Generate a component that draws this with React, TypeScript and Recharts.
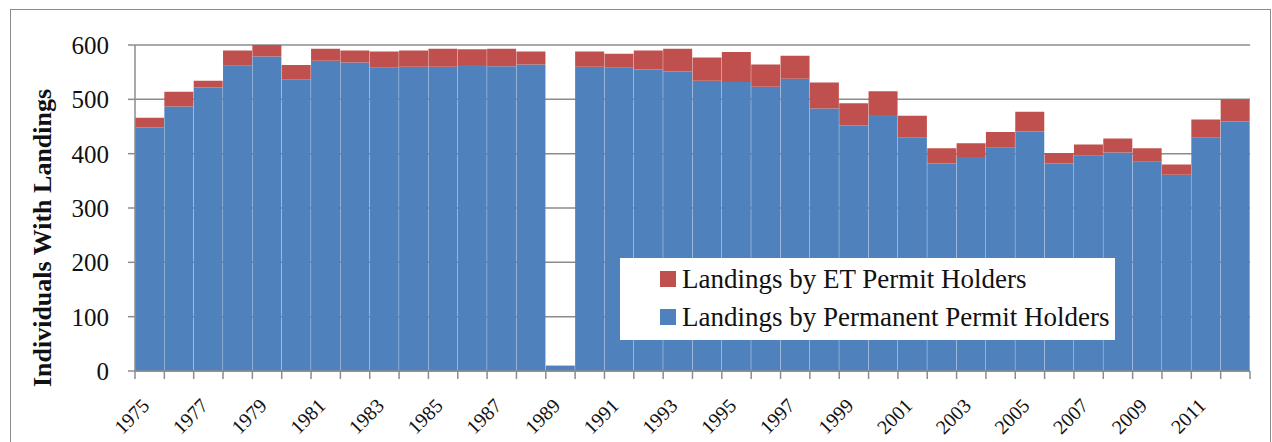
import { BarChart, Bar, XAxis, YAxis, CartesianGrid, Legend } from 'recharts'

const YEARS = [
  1975, 1976, 1977, 1978, 1979, 1980, 1981, 1982, 1983, 1984,
  1985, 1986, 1987, 1988, 1989, 1990, 1991, 1992, 1993, 1994,
  1995, 1996, 1997, 1998, 1999, 2000, 2001, 2002, 2003, 2004,
  2005, 2006, 2007, 2008, 2009, 2010, 2011, 2012,
]

// individuals with landings, permanent permit holders (bottom of stack)
const PERMANENT = [
  448, 487, 522, 562, 579, 537, 571, 568, 558, 560,
  560, 563, 561, 564, 10, 560, 558, 555, 551, 534,
  532, 523, 538, 483, 452, 471, 430, 382, 394, 411,
  441, 382, 396, 402, 385, 361, 430, 459,
]

// ET permit holders (top of stack)
const ET = [
  18, 27, 12, 28, 24, 26, 22, 22, 30, 30,
  33, 29, 32, 24, 0, 28, 26, 35, 42, 43,
  55, 41, 42, 48, 41, 44, 40, 28, 25, 29,
  36, 19, 21, 26, 25, 19, 33, 41,
]

const Y_TICKS = [0, 100, 200, 300, 400, 500, 600]

const PERM_NAME = 'Landings by Permanent Permit Holders'
const ET_NAME = 'Landings by ET Permit Holders'

const PERM_COLOR = '#4f81bd'
const ET_COLOR = '#c0504d'
const GRID = '#8c8c8c'
const TEXT = '#111'
const FONT = '"Liberation Serif", "Times New Roman", serif'

const W = 1272
const H = 442
const MARGIN = { top: 45, right: 22, left: 0, bottom: 0 }
const Y_AXIS_W = 135
const X_AXIS_H = 71
const BAND = (W - MARGIN.left - MARGIN.right - Y_AXIS_W) / YEARS.length

const LEGEND_ITEMS = [
  { name: ET_NAME, color: ET_COLOR },
  { name: PERM_NAME, color: PERM_COLOR },
]

const data = YEARS.map((year, i) => ({
  year: String(year),
  permanent: PERMANENT[i],
  et: ET[i],
}))

// category ticks sit on the band edges, labels on every other year
function YearTick({ x, y, index, payload }: any) {
  const left = x - BAND / 2
  const last = index === YEARS.length - 1
  const ax = x + 1
  const ay = y + 28
  return (
    <g>
      <line x1={left} x2={left} y1={y - 8} y2={y} stroke={GRID} strokeWidth={1.5} />
      {last && <line x1={left + BAND} x2={left + BAND} y1={y - 8} y2={y} stroke={GRID} strokeWidth={1.5} />}
      {index % 2 === 0 && (
        <text
          x={ax}
          y={ay}
          textAnchor="end"
          transform={`rotate(-45, ${ax}, ${ay})`}
          fontSize={20}
          fontFamily={FONT}
          fill={TEXT}
        >
          {payload.value}
        </text>
      )}
    </g>
  )
}

function LegendBox() {
  return (
    <div style={{ fontFamily: FONT, fontSize: 27, color: TEXT, paddingLeft: 40, paddingTop: 2 }}>
      {LEGEND_ITEMS.map(item => (
        <div key={item.name} style={{ display: 'flex', alignItems: 'center', height: 38, whiteSpace: 'nowrap' }}>
          <span style={{ display: 'inline-block', flexShrink: 0, width: 16, height: 16, background: item.color, marginRight: 6 }} />
          {item.name}
        </div>
      ))}
    </div>
  )
}

export default function App() {
  return (
    <div style={{ position: 'absolute', left: 0, top: 0, width: W, height: H, background: '#fff', overflow: 'hidden' }}>
      <div style={{ position: 'absolute', left: 10, top: 9, width: 1261, height: 460, border: `1px solid ${GRID}`, boxSizing: 'border-box' }} />
      <BarChart width={W} height={H} data={data} margin={MARGIN} barCategoryGap={0} barGap={0}>
        <CartesianGrid vertical={false} stroke={GRID} strokeWidth={1.5} />
        <XAxis
          dataKey="year"
          height={X_AXIS_H}
          interval={0}
          tickLine={false}
          tickSize={8}
          tickMargin={0}
          axisLine={{ stroke: GRID, strokeWidth: 1.5 }}
          tick={<YearTick />}
        />
        <YAxis
          width={Y_AXIS_W}
          domain={[0, 600]}
          ticks={Y_TICKS}
          allowDataOverflow
          tickSize={7}
          tickMargin={19}
          axisLine={{ stroke: GRID, strokeWidth: 1.5 }}
          tickLine={{ stroke: GRID, strokeWidth: 1.5 }}
          tick={{ fontSize: 25, fill: TEXT, fontFamily: FONT }}
        />
        <Legend
          layout="vertical"
          align="center"
          verticalAlign="middle"
          wrapperStyle={{ left: 620, top: 258, width: 495, height: 82, backgroundColor: '#fff' }}
          content={() => <LegendBox />}
        />
        <Bar dataKey="permanent" name={PERM_NAME} stackId="a" fill={PERM_COLOR} isAnimationActive={false} />
        <Bar dataKey="et" name={ET_NAME} stackId="a" fill={ET_COLOR} isAnimationActive={false} />
      </BarChart>
      <svg width={W} height={H} style={{ position: 'absolute', left: 0, top: 0, pointerEvents: 'none' }}>
        <text
          x={42}
          y={238}
          transform="rotate(-90, 42, 238)"
          textAnchor="middle"
          dominantBaseline="central"
          fontSize={26}
          fontWeight="bold"
          fontFamily={FONT}
          fill={TEXT}
        >
          Individuals With Landings
        </text>
      </svg>
    </div>
  )
}
